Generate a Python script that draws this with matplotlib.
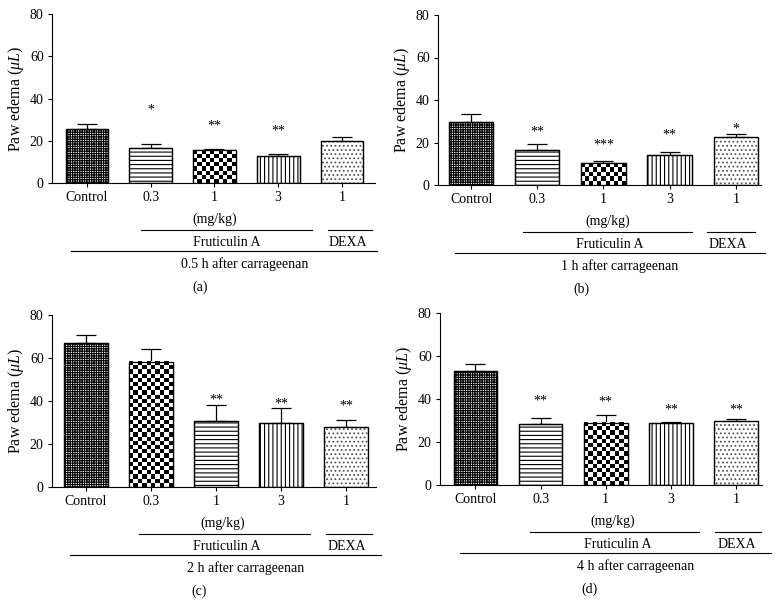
import numpy as np
import matplotlib
matplotlib.use('Agg')
import matplotlib.pyplot as plt
import matplotlib.transforms as mtransforms

plt.rcParams['font.family'] = 'serif'
plt.rcParams['font.serif'] = ['Liberation Serif', 'DejaVu Serif']
plt.rcParams['mathtext.fontset'] = 'custom'
plt.rcParams['mathtext.rm'] = 'Liberation Serif'
plt.rcParams['mathtext.it'] = 'Liberation Serif:italic'
plt.rcParams['hatch.linewidth'] = 0.8

groups = ['Control', '0.3', '1', '3', '1']

a_vals = [25.7, 16.7, 15.4, 12.9, 19.7]
a_err = [2.1, 1.7, 0.8, 0.8, 2.2]
a_stars = ['', '*', '**', '**', '']
a_star_y = [0, 34.6, 27.1, 24.6, 0]

b_vals = [29.7, 16.5, 10.3, 13.9, 22.7]
b_err = [3.7, 3.0, 1.2, 1.7, 1.2]
b_stars = ['', '**', '***', '**', '*']
b_star_y = [0, 24.8, 18.9, 23.7, 26.4]

c_vals = [67.0, 58.2, 30.8, 29.8, 28.1]
c_err = [3.8, 5.8, 7.4, 7.1, 2.9]
c_stars = ['', '', '**', '**', '**']
c_star_y = [0, 0, 40.4, 38.4, 37.8]

d_vals = [53.0, 28.6, 28.9, 28.9, 29.6]
d_err = [3.3, 2.4, 3.7, 0.5, 0.9]
d_stars = ['', '**', '**', '**', '**']
d_star_y = [0, 39.0, 38.5, 34.8, 34.8]

times = ['0.5 h after carrageenan', '1 h after carrageenan',
         '2 h after carrageenan', '4 h after carrageenan']
letters = ['(a)', '(b)', '(c)', '(d)']

fills_abd = ['fine', 'hline', 'checker', 'vline', 'dots']
fills_c = ['fine', 'checker', 'hline', 'vline', 'dots']

W, H = 780, 604
fig = plt.figure(figsize=(W / 100, H / 100), dpi=100)

# panel layout in pixels: left, right, top, bottom(zero), xlim
panels = [
    dict(box=(52, 375, 14, 183), xlim=(-0.55, 4.52), vals=a_vals, err=a_err,
         stars=a_stars, sy=a_star_y, fills=fills_abd,
         frut=(0.85, 3.53), dexa=(3.79, 4.47), base=(-0.25, 4.55),
         tx=(2.0, 2.2, 4.1, 2.48, 1.77)),
    dict(box=(438, 761, 15, 185), xlim=(-0.50, 4.38), vals=b_vals, err=b_err,
         stars=b_stars, sy=b_star_y, fills=fills_abd,
         frut=(0.79, 3.33), dexa=(3.56, 4.29), base=(-0.25, 4.44),
         tx=(2.07, 2.1, 3.88, 2.25, 1.67)),
    dict(box=(52, 376, 315, 487), xlim=(-0.52, 4.46), vals=c_vals, err=c_err,
         stars=c_stars, sy=c_star_y, fills=fills_c,
         frut=(0.82, 3.45), dexa=(3.69, 4.40), base=(-0.25, 4.54),
         tx=(2.1, 2.16, 4.01, 2.46, 1.74)),
    dict(box=(440, 762, 313, 485), xlim=(-0.545, 4.40), vals=d_vals, err=d_err,
         stars=d_stars, sy=d_star_y, fills=fills_abd,
         frut=(0.83, 3.43), dexa=(3.68, 4.39), base=(-0.24, 4.54),
         tx=(2.11, 2.18, 4.01, 2.46, 1.75)),
]

hatches = {'fine': '+++++++', 'hline': '----', 'vline': '||||', 'dots': '....'}

for k, p in enumerate(panels):
    l, r, t, b = p['box']
    ax = fig.add_axes([l / W, 1 - b / H, (r - l) / W, (b - t) / H])
    ax.set_xlim(*p['xlim'])
    ax.set_ylim(0, 80)
    x = np.arange(len(groups))

    # error bars (upper only)
    ax.errorbar(x, p['vals'], yerr=[np.zeros(5), p['err']], fmt='none',
                ecolor='black', elinewidth=0.9, capsize=7, capthick=0.9,
                zorder=1)

    bars = ax.bar(x, p['vals'], width=0.67, color='white', edgecolor='black',
                  linewidth=0.9, zorder=2)
    for bar, f in zip(bars, p['fills']):
        if f == 'checker':
            x0, y0 = bar.get_x(), bar.get_y()
            w, h = bar.get_width(), bar.get_height()
            (px0, py0), (px1, py1) = ax.transData.transform([(x0, y0), (x0 + w, y0 + h)])
            nx = max(1, int(round((px1 - px0) / 4.2)))
            ny = max(1, int(round((py1 - py0) / 4.2)))
            arr = np.indices((ny, nx)).sum(0) % 2
            ax.imshow(arr, cmap='gray', extent=(x0, x0 + w, 0, h), aspect='auto',
                      interpolation='nearest', clip_path=bar, zorder=2.5)
        elif f == 'dots':
            bar.set_hatch(hatches[f])
            bar.set_edgecolor('#555555')
        else:
            bar.set_hatch(hatches[f])
    # outlines on top
    ax.bar(x, p['vals'], width=0.67, fill=False, edgecolor='black',
           linewidth=0.9, zorder=3)
    ax.set_xlim(*p['xlim'])
    ax.set_ylim(0, 80)

    for xi, s, yy in zip(x, p['stars'], p['sy']):
        if s:
            ax.text(xi, yy, s, ha='center', va='center', fontsize=10)

    for side in ['top', 'right']:
        ax.spines[side].set_visible(False)
    for side in ['left', 'bottom']:
        ax.spines[side].set_linewidth(0.8)
    ax.set_yticks([0, 20, 40, 60, 80])
    ax.set_xticks(x)
    ax.set_xticklabels(groups)
    ax.tick_params(axis='both', direction='out', length=3, width=0.8,
                   labelsize=10, pad=3)
    ax.set_ylabel('Paw edema ($\\mu L$)', fontsize=11.5, labelpad=3)

    base = ax.get_xaxis_transform()

    def off(dy):
        return mtransforms.offset_copy(base, fig=fig, x=0, y=-dy, units='dots')

    mg_x, fr_x, dx_x, tm_x, lb_x = p['tx']
    ax.text(mg_x, 0, '(mg/kg)', transform=off(36), ha='center', va='center',
            fontsize=10, clip_on=False)
    ax.plot(p['frut'], [0, 0], transform=off(47), color='black', lw=0.8,
            clip_on=False)
    ax.plot(p['dexa'], [0, 0], transform=off(47), color='black', lw=0.8,
            clip_on=False)
    ax.text(fr_x, 0, 'Fruticulin A', transform=off(59), ha='center',
            va='center', fontsize=10, clip_on=False)
    ax.text(dx_x, 0, 'DEXA', transform=off(59), ha='center', va='center',
            fontsize=10, clip_on=False)
    ax.plot(p['base'], [0, 0], transform=off(68), color='black', lw=0.8,
            clip_on=False)
    ax.text(tm_x, 0, times[k], transform=off(81), ha='center', va='center',
            fontsize=10, clip_on=False)
    ax.text(lb_x, 0, letters[k], transform=off(104), ha='center', va='center',
            fontsize=10, clip_on=False)

fig.savefig('out.png', dpi=100)
